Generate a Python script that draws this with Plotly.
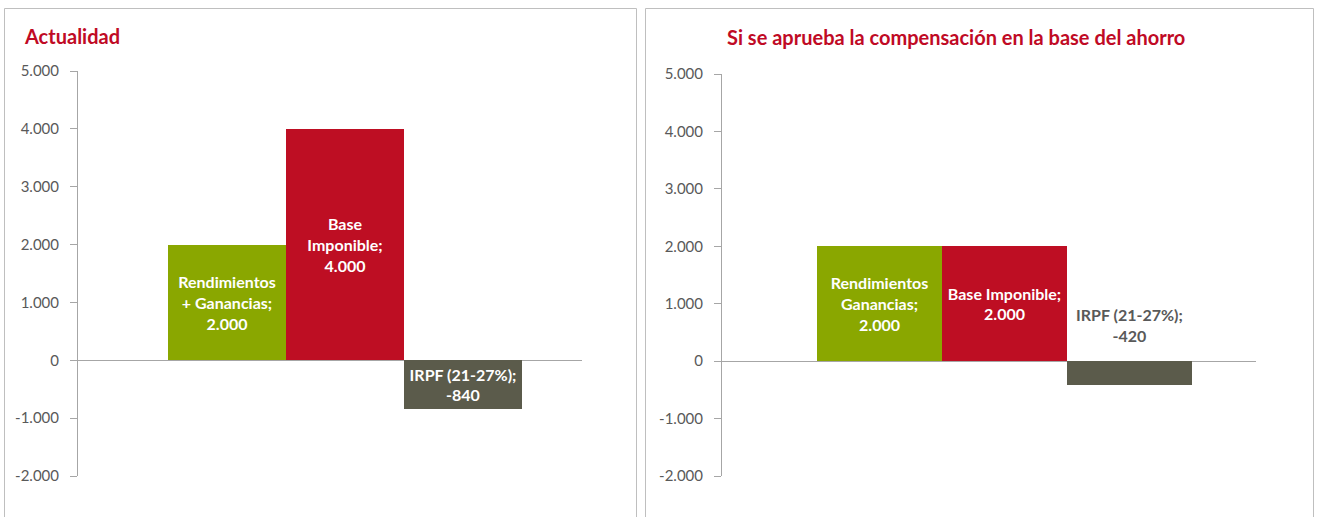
import plotly.graph_objects as go

# ---- data ----
categories = ["Rendimientos + Ganancias", "Base Imponible", "IRPF (21-27%)"]
left_values = [2000, 4000, -840]
right_values = [2000, 2000, -420]
left_labels = ["Rendimientos<br>+ Ganancias", "Base<br>Imponible", "IRPF (21-27%)"]
right_labels = ["Rendimientos<br>Ganancias", "Base Imponible", "IRPF (21-27%)"]
bar_colors = ["#8AA700", "#BE0E23", "#5B5B4B"]
left_title = "Actualidad"
right_title = "Si se aprueba la compensación en la base del ahorro"
tick_vals = [-2000, -1000, 0, 1000, 2000, 3000, 4000, 5000]
tick_text = ["-2.000", "-1.000", "0", "1.000", "2.000", "3.000", "4.000", "5.000"]

W, H = 1318, 517
FONT = "Lato"
TITLE_RED = "#C00A25"
GRAY_TXT = "#595959"
LBL_SIZE = 16


def fmt(v):
    return f"{v:,}".replace(",", ".")


def px_x(p):
    return p / W


def px_y(p):
    return 1 - p / H


fig = go.Figure()

fig.add_trace(go.Bar(
    x=categories, y=left_values, marker_color=bar_colors,
    text=[f"{n};<br>{fmt(v)}" for n, v in zip(left_labels, left_values)],
    textposition="inside", insidetextanchor="middle",
    textfont=dict(family=FONT, size=LBL_SIZE, color="white", weight="bold"),
    constraintext="none",
    xaxis="x", yaxis="y", showlegend=False, hoverinfo="skip",
))

right_text = [f"{n};<br>{fmt(v)}" for n, v in zip(right_labels, right_values)]
fig.add_trace(go.Bar(
    x=categories, y=right_values, marker_color=bar_colors,
    text=right_text[:2] + [""],
    textposition="inside", insidetextanchor="middle",
    textfont=dict(family=FONT, size=LBL_SIZE, color="white", weight="bold"),
    constraintext="none",
    xaxis="x2", yaxis="y2", showlegend=False, hoverinfo="skip",
))

fig.add_annotation(
    x=categories[2], y=0, xref="x2", yref="y2", text=right_text[2],
    showarrow=False, yanchor="bottom", yshift=14,
    font=dict(family=FONT, size=LBL_SIZE, color=GRAY_TXT, weight="bold"),
)

xaxis_common = dict(type="category", showticklabels=False, showgrid=False,
                    showline=False, zeroline=False, ticks="", automargin=False,
                    range=[-1.263, 3.008], fixedrange=True)
yaxis_common = dict(range=[-2000, 5000], tickvals=tick_vals, ticktext=tick_text,
                    showgrid=False, showline=True, linecolor="#A6A6A6", linewidth=1,
                    ticks="outside", ticklen=7, tickcolor="#A6A6A6",
                    tickfont=dict(family=FONT, size=15, color=GRAY_TXT),
                    ticklabelstandoff=8, automargin=False, fixedrange=True,
                    zeroline=True, zerolinecolor="#A6A6A6", zerolinewidth=1)

fig.update_layout(
    template="none",
    width=W, height=H, autosize=False,
    margin=dict(l=0, r=0, t=0, b=0, pad=0, autoexpand=False),
    paper_bgcolor="white", plot_bgcolor="white",
    bargap=0,
    xaxis=dict(domain=[px_x(78), px_x(582)], anchor="y", **xaxis_common),
    yaxis=dict(domain=[px_y(476), px_y(71)], anchor="x", **yaxis_common),
    xaxis2=dict(domain=[px_x(722), px_x(1256)], anchor="y2", **xaxis_common),
    yaxis2=dict(domain=[px_y(476), px_y(74)], anchor="x2", **yaxis_common),
    shapes=[
        dict(type="rect", xref="paper", yref="paper",
             x0=px_x(4.5), x1=px_x(636.5), y0=px_y(530), y1=px_y(8.5),
             line=dict(color="#BFBFBF", width=1), fillcolor="rgba(0,0,0,0)", layer="below"),
        dict(type="rect", xref="paper", yref="paper",
             x0=px_x(645.5), x1=px_x(1313.5), y0=px_y(530), y1=px_y(8.5),
             line=dict(color="#BFBFBF", width=1), fillcolor="rgba(0,0,0,0)", layer="below"),
    ],
    annotations=list(fig.layout.annotations) + [
        dict(text=left_title, xref="paper", yref="paper", x=px_x(22), y=px_y(36),
             xanchor="left", yanchor="middle", showarrow=False,
             font=dict(family=FONT, size=20, color=TITLE_RED, weight="bold")),
        dict(text=right_title, xref="paper", yref="paper", x=px_x(955.5), y=px_y(37),
             xanchor="center", yanchor="middle", showarrow=False,
             font=dict(family=FONT, size=20, color=TITLE_RED, weight="bold")),
    ],
)

fig.write_html(
    "out.html",
    config={"displayModeBar": False, "responsive": False},
    post_script="document.body.style.margin='0';document.body.style.padding='0';"
                "document.body.style.overflow='hidden';",
)
